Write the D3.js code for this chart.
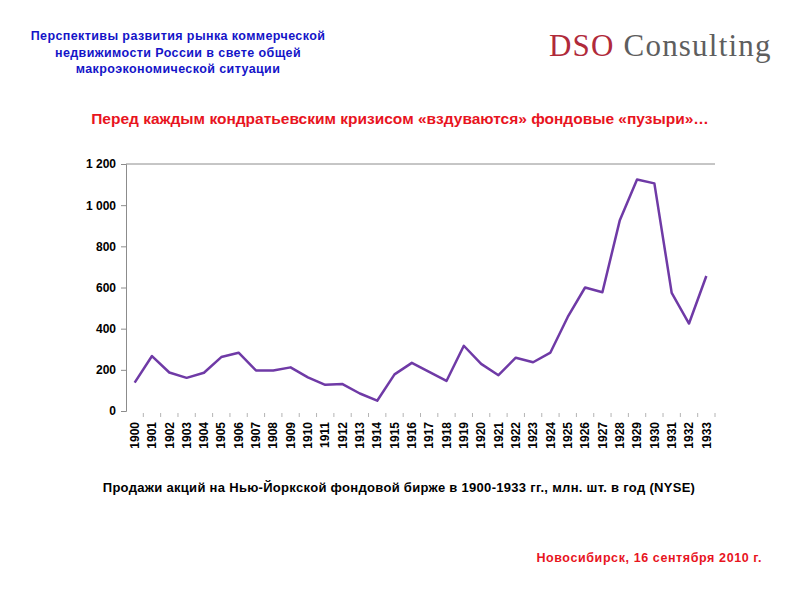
<!DOCTYPE html>
<html>
<head>
<meta charset="utf-8">
<script src="https://cdn.jsdelivr.net/npm/d3@7"></script>
<style>
  body { margin: 0; background: #fff; }
  svg text { font-family: "Liberation Sans", Arial, sans-serif; }
</style>
</head>
<body>
<div class="chart"></div>
<script>
// years on the x axis
const years = ["1900","1901","1902","1903","1904","1905","1906","1907","1908","1909",
  "1910","1911","1912","1913","1914","1915","1916","1917","1918","1919",
  "1920","1921","1922","1923","1924","1925","1926","1927","1928","1929",
  "1930","1931","1932","1933"]
// NYSE share volume, mln per year
const sales = [138, 267, 187, 161, 186, 262, 283, 197, 197, 212,
  163, 127, 131, 85, 50, 178, 234, 190, 146, 317,
  229, 174, 259, 237, 284, 457, 600, 577, 925, 1125,
  1106, 574, 425, 656]
const yTicks = [0, 200, 400, 600, 800, 1000, 1200]

let width = 800, height = 600
let margin = { top: 164, right: 85, bottom: 189, left: 126 }

let svg = d3.select(".chart")
  .append("svg")
  .attr("width", width)
  .attr("height", height)

// header
let head = svg.append("text")
  .attr("text-anchor", "middle")
  .attr("font-size", 12.5)
  .attr("font-weight", "bold")
  .attr("letter-spacing", 0.4)
  .attr("fill", "#1414c8")
;["Перспективы развития рынка коммерческой", "недвижимости России в свете общей", "макроэкономической ситуации"]
  .forEach((t, i) => {
    head.append("tspan").attr("x", 178).attr("y", 40 + i * 16.5).text(t)
  })

let logo = svg.append("text")
  .attr("x", 549)
  .attr("y", 56)
  .attr("font-size", 31)
  .attr("letter-spacing", 1.2)
  .style("font-family", "'Liberation Serif', 'DejaVu Serif', serif")
logo.append("tspan").attr("fill", "#b02a3a").text("DSO ")
logo.append("tspan").attr("fill", "#5e5e5e").text("Consulting")

svg.append("text")
  .attr("x", 400)
  .attr("y", 124)
  .attr("text-anchor", "middle")
  .attr("font-size", 15.5)
  .attr("font-weight", "bold")
  .attr("fill", "#e8141e")
  .text("Перед каждым кондратьевским кризисом «вздуваются» фондовые «пузыри»…")

let g = svg.append("g")
  .attr("transform", "translate(" + margin.left + "," + margin.top + ")")

let w = width - margin.left - margin.right
let h = height - margin.top - margin.bottom

let x = d3.scaleBand().domain(years).range([0, w])
let y = d3.scaleLinear().domain([0, 1200]).range([h, 0])

// top border line
g.append("line")
  .attr("x1", 0).attr("x2", w)
  .attr("y1", y(1200)).attr("y2", y(1200))
  .attr("stroke", "#8c8c8c")
  .attr("stroke-width", 1)

let yAxis = g.append("g")
  .call(d3.axisLeft(y).tickValues(yTicks).tickSize(5).tickPadding(5)
    .tickFormat(d => d3.format(",")(d).replace(",", " ")))
yAxis.select(".domain").attr("stroke", "#8c8c8c")
yAxis.selectAll(".tick line").attr("stroke", "#8c8c8c")
yAxis.selectAll("text")
  .attr("font-size", 12)
  .attr("font-weight", "bold")
  .attr("fill", "#000")
  .style("font-family", "'Liberation Sans', Arial, sans-serif")

// x axis with ticks between categories
let xAxis = g.append("g")
  .attr("transform", `translate(0,${h})`)
  .call(d3.axisBottom(x).tickSize(0))
xAxis.select(".domain").remove()
xAxis.selectAll("text")
  .attr("font-size", 12)
  .attr("font-weight", "bold")
  .attr("fill", "#000")
  .attr("transform", "rotate(-90)")
  .attr("text-anchor", "end")
  .attr("x", -11)
  .attr("y", 0)
  .attr("dy", "0.35em")
  .style("font-family", "'Liberation Sans', Arial, sans-serif")

g.selectAll(".sep")
  .data(years)
  .enter()
  .append("line")
  .attr("class", "sep")
  .attr("x1", d => x(d) + x.bandwidth())
  .attr("x2", d => x(d) + x.bandwidth())
  .attr("y1", h + 2)
  .attr("y2", h + 6)
  .attr("stroke", "#b4b4b4")
  .attr("stroke-width", 1)

let line = d3.line()
  .x((d, i) => x(years[i]) + x.bandwidth() / 2)
  .y(d => y(d))

g.append("path")
  .datum(sales)
  .attr("fill", "none")
  .attr("stroke", "#6f3aa6")
  .attr("stroke-width", 2.5)
  .attr("stroke-linejoin", "round")
  .attr("d", line)

svg.append("text")
  .attr("x", 399)
  .attr("y", 492)
  .attr("text-anchor", "middle")
  .attr("font-size", 13)
  .attr("font-weight", "bold")
  .attr("letter-spacing", 0.3)
  .attr("fill", "#000")
  .text("Продажи акций на Нью-Йоркской фондовой бирже в 1900-1933 гг., млн. шт. в год (NYSE)")

svg.append("text")
  .attr("x", 762)
  .attr("y", 562)
  .attr("text-anchor", "end")
  .attr("font-size", 12.5)
  .attr("font-weight", "bold")
  .attr("letter-spacing", 0.6)
  .attr("fill", "#e8141e")
  .text("Новосибирск, 16 сентября 2010 г.")
</script>
</body>
</html>
